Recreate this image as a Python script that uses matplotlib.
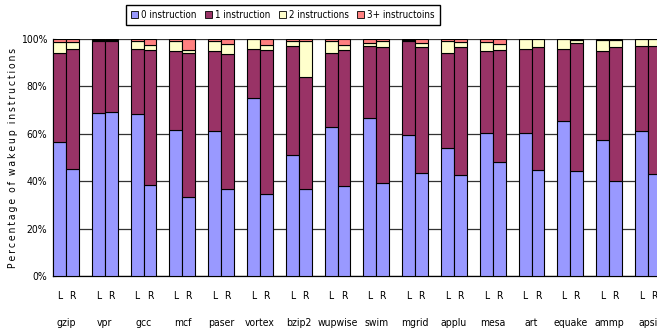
import matplotlib
matplotlib.use("Agg")
import matplotlib.pyplot as plt
from matplotlib import font_manager
import numpy as np
from matplotlib.patches import Patch

# prefer a narrow sans face when one is installed
narrow = [f for f in font_manager.fontManager.ttflist
          if "Narrow" in f.name or f.stretch in ("condensed", "semi-condensed")]
if narrow:
    plt.rcParams['font.family'] = [narrow[0].name, "DejaVu Sans"]
    plt.rcParams['font.stretch'] = narrow[0].stretch
else:
    plt.rcParams['font.family'] = ["Liberation Sans", "DejaVu Sans"]

benchmarks = ["gzip", "vpr", "gcc", "mcf", "paser", "vortex", "bzip2", "wupwise",
              "swim", "mgrid", "applu", "mesa", "art", "equake", "ammp", "apsi"]
series_names = ["0 instruction", "1 instruction", "2 instructions", "3+ instructoins"]

# percentages per benchmark, (L, R) pairs
zero_inst = [(56.4, 45.3), (68.6, 69.3), (68.2, 38.3), (61.5, 33.5), (61.0, 36.6),
             (75.2, 34.7), (51.1, 36.6), (62.7, 37.8), (66.8, 39.1), (59.5, 43.6),
             (54.0, 42.6), (60.2, 48.0), (60.5, 44.7), (65.5, 44.2), (57.4, 40.1),
             (61.2, 43.0)]
one_inst = [(37.8, 50.3), (30.7, 30.0), (27.6, 57.1), (33.6, 60.7), (33.8, 56.9),
            (20.6, 60.7), (45.9, 47.4), (31.5, 57.4), (30.2, 57.4), (39.8, 53.2),
            (40.0, 53.9), (34.9, 47.4), (35.3, 51.9), (30.3, 54.0), (37.7, 56.4),
            (36.0, 53.9)]
two_inst = [(4.4, 3.0), (0.4, 0.4), (3.2, 2.1), (4.1, 1.2), (4.2, 4.2),
            (4.1, 2.1), (2.2, 15.2), (5.0, 2.3), (1.5, 2.7), (0.3, 1.7),
            (5.2, 2.1), (3.5, 2.3), (4.1, 3.3), (4.2, 1.4), (4.5, 3.1),
            (2.7, 3.0)]
three_inst = [(1.4, 1.4), (0.3, 0.3), (1.0, 2.5), (0.8, 4.6), (1.0, 2.3),
              (0.1, 2.5), (0.8, 0.8), (0.8, 2.5), (1.5, 0.8), (0.4, 1.5),
              (0.8, 1.4), (1.4, 2.3), (0.1, 0.1), (0.0, 0.4), (0.4, 0.4),
              (0.1, 0.1)]

colors = ["#9999FF", "#993366", "#FFFFCC", "#FF8080"]

fig = plt.figure(figsize=(6.57, 3.32), dpi=100)
ax = fig.add_axes([53 / 657, 56 / 332, 1 - 53 / 657, 237 / 332])

# each benchmark takes three slots: L bar, R bar, empty gap
x_pos = []
for i in range(len(benchmarks)):
    x_pos += [i * 3, i * 3 + 1]
x_pos = np.array(x_pos)

stack = [np.array(s).ravel() for s in (zero_inst, one_inst, two_inst, three_inst)]
bottom = np.zeros(len(x_pos))
for vals, col in zip(stack, colors):
    ax.bar(x_pos, vals, bottom=bottom, width=1.0, color=col,
           edgecolor="black", linewidth=0.8, zorder=3)
    bottom += vals

fs = 7.5
ax.set_xlim(-0.5, 46.2)
ax.set_ylim(0, 100)
ax.set_yticks(np.arange(0, 101, 20))
ax.set_yticklabels([f"{v}%" for v in range(0, 101, 20)], fontsize=fs)
ax.yaxis.grid(True, color="#333333", linewidth=0.9, zorder=0)
ax.tick_params(axis="y", direction="in", length=2, pad=4)

ax.set_xticks(x_pos)
ax.set_xticklabels(["L", "R"] * len(benchmarks), fontsize=fs)
ax.set_xticks(np.arange(len(benchmarks)) * 3 + 0.5, minor=True)
ax.set_xticklabels(benchmarks, minor=True, fontsize=fs)
ax.tick_params(axis="x", which="major", length=0, pad=11)
ax.tick_params(axis="x", which="minor", length=0, pad=30)

for side in ("top", "right"):
    ax.spines[side].set_visible(False)
ax.spines["left"].set_linewidth(0.9)
ax.spines["bottom"].set_linewidth(0.9)

# letter-spaced axis title
ylabel = "  ".join("\u2009".join(word) for word in "Percentage of wakeup instructions".split())
ax.set_ylabel(ylabel, fontsize=fs, labelpad=2)

handles = [Patch(facecolor=c, edgecolor="black", linewidth=0.6) for c in colors]
fig.legend(handles, series_names, loc="center", bbox_to_anchor=(283 / 657, 1 - 15 / 332),
           ncol=4, fontsize=7, frameon=True, fancybox=False, edgecolor="black",
           handlelength=0.7, handleheight=0.7, handletextpad=0.3, columnspacing=0.9,
           borderpad=0.5, framealpha=1)

fig.savefig("out.png", dpi=100)
